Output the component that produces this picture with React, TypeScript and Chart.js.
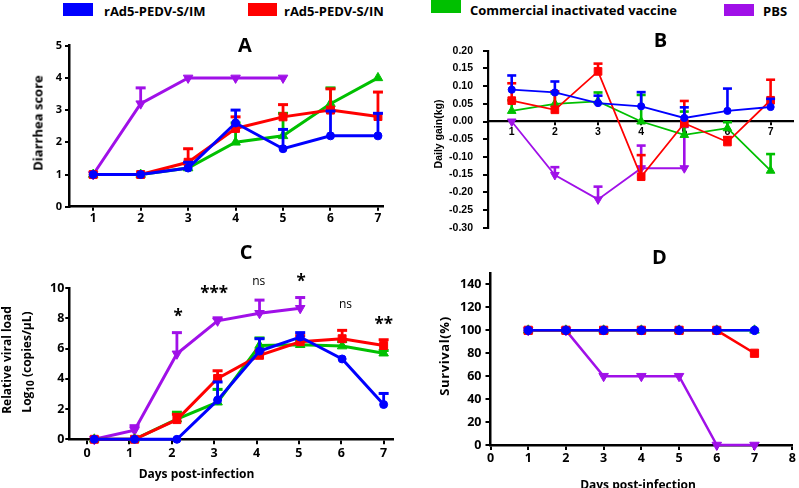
import React, { useEffect, useRef } from "react";
import { Chart, registerables } from "chart.js";

Chart.register(...registerables);

const BLUE = "#0000FF";
const RED = "#FF0000";
const GREEN = "#00C000";
const PURPLE = "#A010E8";

const legendLabels = ["rAd5-PEDV-S/IM", "rAd5-PEDV-S/IN", "Commercial inactivated vaccine", "PBS"];

// ---- Panel A: diarrhea score ----
const daysA = [1, 2, 3, 4, 5, 6, 7];
const scoreIM = [1, 1, 1.2, 2.6, 1.8, 2.2, 2.2];
const scoreIMsd = [0, 0, 0.18, 0.4, 0.6, 0.77, 0.7];
const scoreIN = [1, 1, 1.38, 2.43, 2.79, 3.0, 2.8];
const scoreINsd = [0, 0, 0.42, 0.36, 0.38, 0.66, 0.76];
const scoreCom = [1, 1, 1.2, 2.0, 2.2, 3.2, 4.0];
const scoreComSd = [0, 0, 0, 0.6, 0.7, 0.49, 0];
const scorePBS = [1, 3.2, 4, 4, 4];
const scorePBSsd = [0, 0.49, 0, 0, 0];
const ticksAx = [1, 2, 3, 4, 5, 6, 7];
const ticksAy = [0, 1, 2, 3, 4, 5];

// ---- Panel B: daily gain (kg) ----
const daysB = [1, 2, 3, 4, 5, 6, 7];
const gainIM = [0.09, 0.082, 0.052, 0.043, 0.01, 0.03, 0.041];
const gainIMsd = [0.04, 0.031, 0.021, 0.04, 0.03, 0.063, 0.023];
const gainIN = [0.059, 0.033, 0.1415, -0.156, -0.005, -0.058, 0.06];
const gainINsd = [0.049, 0.052, 0.022, 0.061, 0.063, 0.014, 0.058];
const gainCom = [0.03, 0.05, 0.057, 0.0, -0.038, -0.019, -0.139];
const gainComSd = [0.03, 0.03, 0.025, 0.075, 0.066, 0.017, 0.047];
const gainPBS = [0.0, -0.151, -0.22, -0.132, -0.132];
const gainPBSsd = [0, 0.022, 0.036, 0.064, 0.117];
const ticksBx = [1, 2, 3, 4, 5, 6, 7];
const ticksBy = [-0.3, -0.25, -0.2, -0.15, -0.1, -0.05, 0, 0.05, 0.1, 0.15, 0.2];

// ---- Panel C: relative viral load ----
const daysC = [0.17, 1.12, 2.12, 3.08, 4.07, 5.03, 6.02, 7.0];
const loadIM = [0, 0, 0, 2.59, 5.83, 6.76, 5.31, 2.3];
const loadIMsd = [0, 0, 0, 1.2, 0.82, 0.29, 0, 0.73];
const loadIN = [0, 0, 1.3, 4.02, 5.55, 6.45, 6.65, 6.2];
const loadINsd = [0, 0, 0.35, 0.51, 0.3, 0.4, 0.55, 0.38];
const loadCom = [0, 0, 1.34, 2.45, 6.2, 6.25, 6.16, 5.69];
const loadComSd = [0, 0, 0.45, 0.85, 0.5, 0.25, 0.3, 0.18];
const loadPBS = [0, 0.6, 5.65, 7.83, 8.33, 8.66];
const loadPBSsd = [0, 0.3, 1.4, 0.2, 0.87, 0.71];
const ticksCx = [0, 1, 2, 3, 4, 5, 6, 7];
const ticksCy = [0, 2, 4, 6, 8, 10];
const sigDays = [2.15, 3.0, 4.05, 5.05, 6.1, 7.0];
const sigLabels = ["*", "***", "ns", "*", "ns", "**"];
const sigLevels = [8.35, 9.87, 10.42, 10.67, 8.88, 7.82];

// ---- Panel D: survival ----
const daysD = [1, 2, 3, 4, 5, 6, 7];
const survIM = [100, 100, 100, 100, 100, 100, 100];
const survIN = [100, 100, 100, 100, 100, 100, 80];
const survCom = [100, 100, 100, 100, 100, 100, 100];
const survPBS = [100, 100, 60, 60, 60, 0, 0];
const ticksDx = [0, 1, 2, 3, 4, 5, 6, 7, 8];
const ticksDy = [0, 20, 40, 60, 80, 100, 120, 140];

const FONT_OS = '"Open Sans", "DejaVu Sans", sans-serif';
const FONT_AR = '"Liberation Sans", Arial, sans-serif';

function fixSize(size: number) {
  return (s: any) => {
    if (s.isHorizontal()) s.height = size;
    else s.width = size;
    s.paddingLeft = 0;
    s.paddingRight = 0;
    s.paddingTop = 0;
    s.paddingBottom = 0;
  };
}

function setTicks(values: number[]) {
  return (s: any) => {
    s.ticks = values.map((v) => ({ value: v }));
  };
}

function axis(o: any) {
  const ticks: any = {
    color: "#000",
    padding: o.pad ?? 2,
    maxRotation: 0,
    autoSkip: false,
    font: { family: o.family ?? FONT_OS, size: o.fontSize, weight: "bold" },
  };
  if (o.fmt) ticks.callback = o.fmt;
  return {
    type: "linear",
    min: o.min,
    max: o.max,
    position: o.position,
    afterBuildTicks: setTicks(o.ticks),
    afterFit: fixSize(o.size),
    grid: {
      drawOnChartArea: false,
      drawTicks: true,
      tickLength: o.tickLen ?? 5,
      color: "#000",
      lineWidth: o.tickWidth ?? 2,
    },
    border: { display: true, color: "#000", width: o.borderWidth ?? 2.5 },
    ticks,
  };
}

function series(label: string, color: string, days: number[], vals: number[], sd: number[] | null, shape: string, o: any) {
  const down = shape === "down";
  return {
    label,
    data: vals.map((v, i) => ({ x: days[i], y: v })),
    errorSd: sd,
    borderColor: color,
    backgroundColor: color,
    pointBackgroundColor: color,
    pointBorderColor: color,
    pointBorderWidth: 1,
    pointStyle: down ? "triangle" : shape,
    pointRotation: down ? 180 : 0,
    pointRadius: o.radius[shape],
    pointHoverRadius: o.radius[shape],
    borderWidth: o.lineWidth,
    tension: 0,
    clip: false,
  };
}

const errorBarPlugin = {
  id: "errorBars",
  beforeDatasetDraw(chart: any, args: any, opts: any) {
    const ds = chart.data.datasets[args.index];
    const sd = ds.errorSd;
    if (!sd) return;
    const meta = args.meta;
    const yScale = chart.scales[meta.yAxisID];
    const ctx = chart.ctx;
    const cap = opts.cap ?? 5;
    ctx.save();
    ctx.strokeStyle = ds.borderColor;
    ctx.lineCap = "butt";
    meta.data.forEach((pt: any, i: number) => {
      const s = sd[i];
      if (!s) return;
      const v = ds.data[i].y;
      const yTop = yScale.getPixelForValue(v + s);
      ctx.lineWidth = opts.width ?? 2.5;
      ctx.beginPath();
      ctx.moveTo(pt.x, pt.y);
      ctx.lineTo(pt.x, yTop);
      ctx.stroke();
      ctx.lineWidth = opts.capWidth ?? 3;
      ctx.beginPath();
      ctx.moveTo(pt.x - cap, yTop);
      ctx.lineTo(pt.x + cap, yTop);
      ctx.stroke();
    });
    ctx.restore();
  },
};

const sigPlugin = {
  id: "sigMarks",
  afterDatasetsDraw(chart: any) {
    const { ctx } = chart;
    const x = chart.scales.x;
    const y = chart.scales.y;
    ctx.save();
    ctx.fillStyle = "#000";
    ctx.textAlign = "center";
    ctx.textBaseline = "middle";
    sigLabels.forEach((lab, i) => {
      const star = lab.startsWith("*");
      const size = star ? 17 : 12;
      ctx.font = `${star ? "bold " : ""}${size}px ${FONT_OS}`;
      const px = x.getPixelForValue(sigDays[i]);
      const py = y.getPixelForValue(sigLevels[i]) + (star ? size * 0.25 : 0);
      ctx.fillText(lab, px, py);
    });
    ctx.restore();
  },
};

const baseOptions = (padding: any, scales: any, eb: any) => ({
  responsive: false,
  maintainAspectRatio: false,
  animation: false,
  events: [],
  layout: { padding },
  plugins: { legend: { display: false }, tooltip: { enabled: false }, errorBars: eb },
  scales,
});

const styleBig = { radius: { circle: 4, rect: 5.6, triangle: 5.5, down: 5.5 }, lineWidth: 3 };
const styleB = { radius: { circle: 3.6, rect: 5.4, triangle: 5, down: 5 }, lineWidth: 1.8 };
const styleD = { radius: { circle: 4.3, rect: 5.8, triangle: 5.5, down: 5.5 }, lineWidth: 2.5 };

function configA() {
  return {
    type: "line",
    data: {
      datasets: [
        series(legendLabels[0], BLUE, daysA, scoreIM, scoreIMsd, "circle", styleBig),
        series(legendLabels[1], RED, daysA, scoreIN, scoreINsd, "rect", styleBig),
        series(legendLabels[2], GREEN, daysA, scoreCom, scoreComSd, "triangle", styleBig),
        series(legendLabels[3], PURPLE, daysA, scorePBS, scorePBSsd, "down", styleBig),
      ],
    },
    options: baseOptions(
      { left: 0, top: 15.7, right: 17.3, bottom: 0 },
      {
        x: axis({ min: 0.49, max: 7.1, ticks: ticksAx, size: 23.3, fontSize: 12, position: "bottom", pad: 1, tickLen: 4 }),
        y: axis({ min: 0, max: 5, ticks: ticksAy, size: 69, fontSize: 11, position: "left", pad: 3, tickLen: 4 }),
      },
      { cap: 5, width: 2.8, capWidth: 3 }
    ),
    plugins: [errorBarPlugin],
  };
}

function configB() {
  return {
    type: "line",
    data: {
      datasets: [
        series(legendLabels[0], BLUE, daysB, gainIM, gainIMsd, "circle", styleB),
        series(legendLabels[1], RED, daysB, gainIN, gainINsd, "rect", styleB),
        series(legendLabels[2], GREEN, daysB, gainCom, gainComSd, "triangle", styleB),
        series(legendLabels[3], PURPLE, daysB, gainPBS, gainPBSsd, "down", styleB),
      ],
    },
    options: baseOptions(
      { left: 0, top: 20.7, right: 6, bottom: 7.3 },
      {
        x: axis({ min: 0.45, max: 7.51, ticks: ticksBx, size: 0, fontSize: 10.5, family: FONT_AR, position: { y: 0 }, pad: 1, tickLen: 3, borderWidth: 2.2 }),
        y: axis({
          min: -0.3, max: 0.2, ticks: ticksBy, size: 88, fontSize: 10.5, family: FONT_AR, position: "left", pad: 10, tickLen: 5, borderWidth: 2.2,
          fmt: (v: any) => Number(v).toFixed(2),
        }),
      },
      { cap: 4.5, width: 2.6, capWidth: 2.6 }
    ),
    plugins: [errorBarPlugin],
  };
}

function configC() {
  return {
    type: "line",
    data: {
      datasets: [
        series(legendLabels[0], BLUE, daysC, loadIM, loadIMsd, "circle", styleBig),
        series(legendLabels[1], RED, daysC, loadIN, loadINsd, "rect", styleBig),
        series(legendLabels[2], GREEN, daysC, loadCom, loadComSd, "triangle", styleBig),
        series(legendLabels[3], PURPLE, daysC, loadPBS, loadPBSsd, "down", styleBig),
      ],
    },
    options: baseOptions(
      { left: 0, top: 48, right: 2, bottom: 0 },
      {
        x: axis({ min: -0.42, max: 7.23, ticks: ticksCx, size: 48.7, fontSize: 12.5, position: "bottom", pad: 2, tickLen: 5 }),
        y: axis({ min: 0, max: 10, ticks: ticksCy, size: 69.3, fontSize: 12.5, position: "left", pad: 1, tickLen: 4 }),
      },
      { cap: 5, width: 2.8, capWidth: 3 }
    ),
    plugins: [errorBarPlugin, sigPlugin],
  };
}

function configD() {
  return {
    type: "line",
    data: {
      datasets: [
        series(legendLabels[0], BLUE, daysD, survIM, null, "circle", styleD),
        series(legendLabels[1], RED, daysD, survIN, null, "rect", styleD),
        series(legendLabels[2], GREEN, daysD, survCom, null, "triangle", styleD),
        series(legendLabels[3], PURPLE, daysD, survPBS, null, "down", styleD),
      ],
    },
    options: baseOptions(
      { left: 0, top: 33, right: 4, bottom: 0 },
      {
        x: axis({ min: 0, max: 8, ticks: ticksDx, size: 43, fontSize: 12.5, position: "bottom", pad: 1, tickLen: 5 }),
        y: axis({ min: 0, max: 150, ticks: ticksDy, size: 90.5, fontSize: 12.5, position: "left", pad: 4, tickLen: 5 }),
      },
      {}
    ),
    plugins: [errorBarPlugin],
  };
}

function Panel({ left, top, width, height, make }: any) {
  const ref = useRef<HTMLCanvasElement | null>(null);
  useEffect(() => {
    const chart = new Chart(ref.current as any, make() as any);
    return () => chart.destroy();
  }, []);
  return (
    <canvas
      ref={ref}
      width={width}
      height={height}
      style={{ position: "absolute", left, top, width, height }}
    />
  );
}

function Txt({ x, y, size, rot = 0, family = FONT_OS, weight = 700, align = "center", spacing = 0, children }: any) {
  const tx = align === "center" ? "-50%" : "0";
  return (
    <div
      style={{
        position: "absolute",
        left: x,
        top: y,
        fontFamily: family,
        fontWeight: weight,
        fontSize: size,
        lineHeight: 1,
        whiteSpace: "nowrap",
        color: "#000",
        letterSpacing: spacing,
        transform: `translate(${tx}, -50%) rotate(${rot}deg)`,
      }}
    >
      {children}
    </div>
  );
}

const legendColors = [BLUE, RED, GREEN, PURPLE];
const legendBoxes = [
  { x: 63, y: 3, w: 30, h: 13, tx: 104, ty: 11.3 },
  { x: 248, y: 3, w: 29, h: 13, tx: 284, ty: 11 },
  { x: 431, y: 0, w: 30, h: 13, tx: 470, ty: 9.5 },
  { x: 724, y: 4, w: 30, h: 12, tx: 763, ty: 11 },
];

export default function App() {
  return (
    <div style={{ position: "fixed", left: 0, top: 0, width: 799, height: 488, background: "#fff", overflow: "hidden" }}>
      <Panel left={0} top={30} width={400} height={200} make={configA} />
      <Panel left={400} top={30} width={399} height={205} make={configB} />
      <Panel left={0} top={240} width={400} height={248} make={configC} />
      <Panel left={400} top={240} width={399} height={248} make={configD} />

      {legendBoxes.map((b, i) => (
        <React.Fragment key={i}>
          <div style={{ position: "absolute", left: b.x, top: b.y, width: b.w, height: b.h, background: legendColors[i] }} />
          <Txt x={b.tx} y={b.ty} size={13} align="left">{legendLabels[i]}</Txt>
        </React.Fragment>
      ))}

      <Txt x={245} y={45} size={20}>A</Txt>
      <Txt x={660.5} y={39.5} size={20}>B</Txt>
      <Txt x={246} y={251.5} size={20}>C</Txt>
      <Txt x={659.5} y={256.5} size={20}>D</Txt>

      <Txt x={38} y={122.5} size={13} rot={-90}>Diarrhea score</Txt>
      <Txt x={438} y={133.5} size={10.5} rot={-90} family={FONT_AR}>Daily gain(kg)</Txt>
      <Txt x={7} y={360} size={12} rot={-90}>Relative viral load</Txt>
      <Txt x={28} y={362} size={12} rot={-90}>
        Log<sub style={{ fontSize: 10, verticalAlign: "-0.25em" }}>10</sub> (copies/µL)
      </Txt>
      <Txt x={196.5} y={474} size={12}>Days post-infection</Txt>
      <Txt x={444} y={356} size={13} rot={-90} spacing={0.6}>Survival(%)</Txt>
      <Txt x={638} y={485} size={12}>Days post-infection</Txt>
    </div>
  );
}
